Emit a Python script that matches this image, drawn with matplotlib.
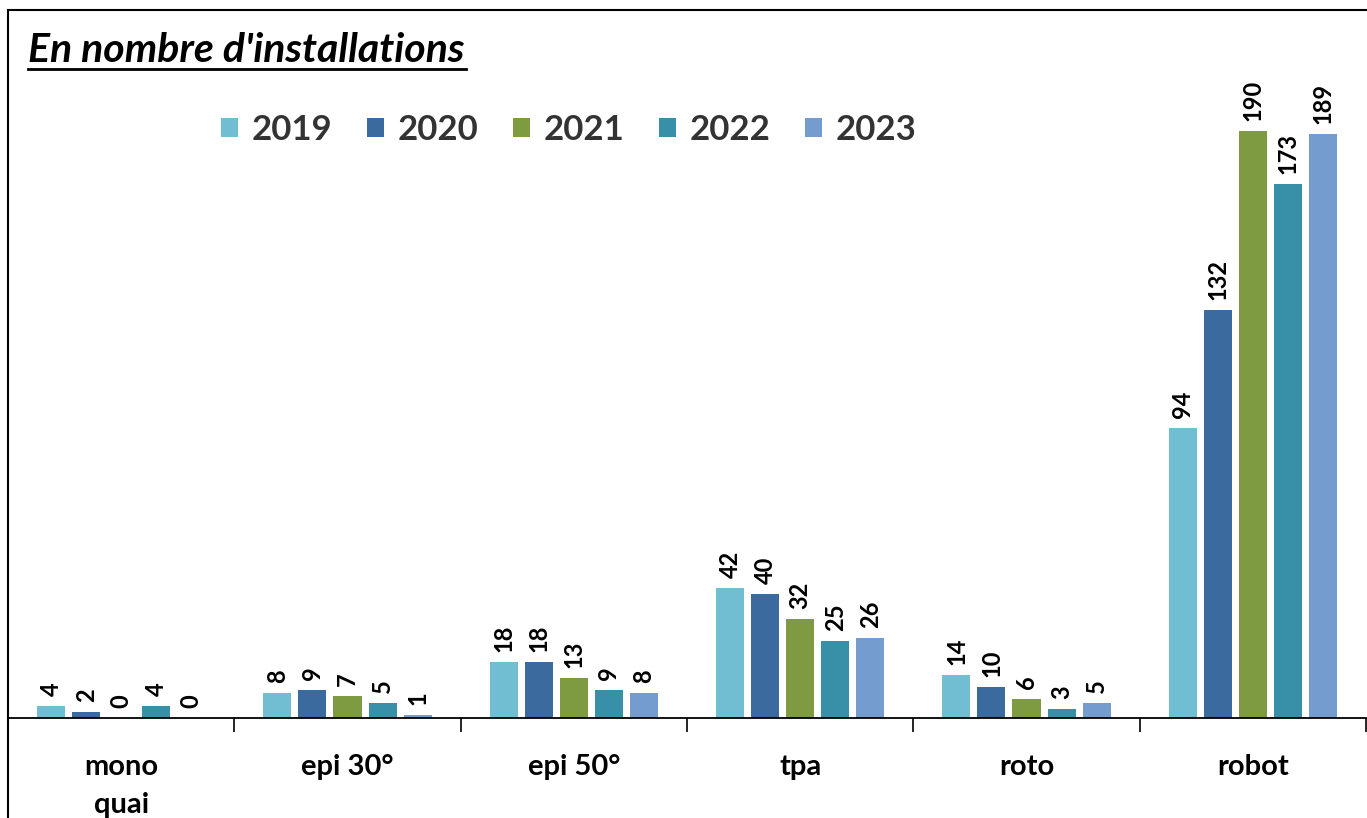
import numpy as np
import matplotlib
matplotlib.use("Agg")
import matplotlib.pyplot as plt
from matplotlib.patches import Rectangle

plt.rcParams['font.family'] = ['Lato', 'DejaVu Sans']

categories = ["mono\nquai", "epi 30°", "epi 50°", "tpa", "roto", "robot"]
years = ["2019", "2020", "2021", "2022", "2023"]
v2019 = [4, 8, 18, 42, 14, 94]
v2020 = [2, 9, 18, 40, 10, 132]
v2021 = [0, 7, 13, 32, 6, 190]
v2022 = [4, 5, 9, 25, 3, 173]
v2023 = [0, 1, 8, 26, 5, 189]
series = [v2019, v2020, v2021, v2022, v2023]
colors = ["#71BDD1", "#3B6A9F", "#7F9B42", "#378FA8", "#749CCF"]

W, H = 1367, 818
fig = plt.figure(figsize=(W / 100, H / 100), dpi=100)

# axes: x from px 8 to 1366, baseline at y=718, top at y=10
ax = fig.add_axes([8 / W, (H - 718) / H, 1358 / W, 708 / H])
px_per_unit = (718 - 131) / 190.0
ax.set_ylim(0, 708 / px_per_unit)
ax.set_xlim(0, len(categories))

x = np.arange(len(categories)) + 0.5
step = 35 / 226.3
width = 28 / 226.3
for i, (vals, col, yr) in enumerate(zip(series, colors, years)):
    pos = x + (i - 2) * step
    ax.bar(pos, vals, width=width, color=col, label=yr, zorder=2)
    for xb, v in zip(pos, vals):
        ax.text(xb, v + 10 / px_per_unit, str(v), rotation=90, ha='center', va='bottom',
                fontsize=17, fontweight='bold', color='black')

for s in ['top', 'right', 'left']:
    ax.spines[s].set_visible(False)
ax.spines['bottom'].set_linewidth(1.3)
ax.set_yticks([])
ax.set_xticks(x)
ax.set_xticklabels(categories, fontsize=21, fontweight='bold', linespacing=1.55)
ax.tick_params(axis='x', which='major', length=0, pad=26)
ax.set_xticks(np.arange(0, len(categories) + 1), minor=True)
ax.tick_params(axis='x', which='minor', length=10, width=1.2, direction='out')

leg = fig.legend(loc='center', bbox_to_anchor=(569 / W, 1 - 130 / H), ncol=5, frameon=False,
                 handlelength=0.48, handleheight=0.48, handletextpad=0.4,
                 columnspacing=1.0, prop={'weight': 'bold', 'size': 25})
for t in leg.get_texts():
    t.set_color('#333333')

fig.text(28 / W, 1 - 51 / H, "En nombre d'installations", fontsize=29.5, fontweight='bold',
         style='italic', va='center', ha='left')
fig.add_artist(plt.Line2D([28 / W, 466 / W], [1 - 69 / H, 1 - 69 / H], color='black', lw=2))

fig.add_artist(Rectangle((8 / W, -0.1), 1.2, 1.1 - 10 / H, transform=fig.transFigure,
                         fill=False, edgecolor='black', lw=1.5))

fig.savefig("out.png", dpi=100)
